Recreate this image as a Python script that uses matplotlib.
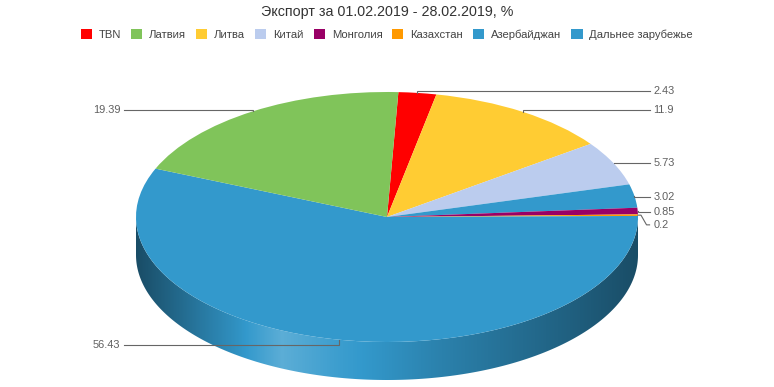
import numpy as np
import matplotlib
matplotlib.use('Agg')
import matplotlib.pyplot as plt
from matplotlib.patches import Polygon, Patch
from matplotlib.colors import to_rgb

plt.rcParams['font.family'] = ['Liberation Sans', 'DejaVu Sans']

# ---- data ----
title = 'Экспорт за 01.02.2019 - 28.02.2019, %'
categories = ['TBN', 'Латвия', 'Литва', 'Китай', 'Монголия', 'Казахстан',
              'Азербайджан', 'Дальнее зарубежье']
values = [2.43, 19.39, 11.9, 5.73, 0.85, 0.2, 3.02, 56.43]
labels = ['2.43', '19.39', '11.9', '5.73', '0.85', '0.2', '3.02', '56.43']
colors = ['#ff0000', '#80c45a', '#ffcc33', '#bbccee', '#990066', '#ff9900',
          '#3399cc', '#3399cc']
# order of slices clockwise from the top
pie_order = [0, 2, 3, 6, 4, 5, 7, 1]

# ---- layout ----
W, H = 774, 387
cx, cy, rx, ry, depth_px = 387, 217, 251, 125, 38
start_deg = 2.6
fig = plt.figure(figsize=(W / 100, H / 100), dpi=100)
ax = fig.add_axes([0, 0, 1, 1])
xlim = (-cx / rx, (W - cx) / rx)
ylim = ((cy - H) / ry, cy / ry)
d = depth_px / ry

vals = [values[i] for i in pie_order]
cols = [colors[i] for i in pie_order]
wedges, _ = ax.pie(vals, colors=cols, startangle=90 - start_deg, counterclock=False,
                   radius=1, wedgeprops=dict(linewidth=0))
for w in wedges:
    w.set_zorder(3)

total = float(sum(vals))
bounds = start_deg + 360 * np.concatenate([[0], np.cumsum(vals)]) / total

# side shading profile across the pie width
su = [0.0, 0.09, 0.2, 0.29, 0.4, 0.6, 0.86, 1.0]
sv = [-0.5, -0.3, -0.05, 0.2, 0.05, -0.15, -0.37, -0.5]
u = np.linspace(0, 1, 500)
s = np.interp(u, su, sv)

for k, i in enumerate(pie_order):
    a1, a2 = bounds[k], bounds[k + 1]
    lo, hi = max(a1, 90), min(a2, 270)
    if hi <= lo:
        continue
    th = np.radians(np.linspace(lo, hi, 300))
    top = np.column_stack([np.sin(th), np.cos(th)])
    bot = np.column_stack([np.sin(th), np.cos(th) - d])[::-1]
    poly = Polygon(np.vstack([top, bot]), closed=True, facecolor='none',
                   edgecolor='none')
    ax.add_patch(poly)
    c = np.array(to_rgb(colors[i]))
    img = np.where(s[:, None] > 0, c + (1 - c) * s[:, None], c * (1 + s[:, None]))
    im = ax.imshow(img[None, :, :], extent=(-1, 1, -1 - d, 0.0), aspect='auto',
                   zorder=2, interpolation='bilinear')
    im.set_clip_path(poly)

# ---- data labels ----
sp = 12.5 / ry
right, left = [], []
for k, i in enumerate(pie_order):
    m = np.radians((bounds[k] + bounds[k + 1]) / 2)
    p = (np.sin(m), np.cos(m), i)
    (right if p[0] >= 0 else left).append(p)

for group, sign in ((right, 1), (left, -1)):
    group.sort(key=lambda p: -p[1])
    prev = None
    for px, py, i in group:
        want = py + (3.5 * py - 1.5) / ry
        ly = want if prev is None else min(want, prev - sp)
        prev = ly
        end = sign * 1.046
        if abs(ly - want) > 3 / ry:
            xs = [px, px + sign * 0.012, end - sign * 0.012, end]
            ys = [py, py, ly, ly]
        else:
            xs = [px, px, end]
            ys = [py, ly, ly]
        ax.plot(xs, ys, color='#666666', lw=0.8, zorder=4, solid_joinstyle='miter')
        ax.text(sign * 1.062, ly, labels[i], ha='left' if sign > 0 else 'right',
                va='center', fontsize=7.9, color='#606060', zorder=5)

ax.set_aspect('auto')
ax.set_xlim(xlim)
ax.set_ylim(ylim)
ax.axis('off')

# ---- title & legend ----
fig.text(0.5, 1 - 12 / H, title, ha='center', va='center', fontsize=10.3,
         color='#333333')
handles = [Patch(facecolor=c, edgecolor='none') for c in colors]
fig.legend(handles, categories, loc='center', bbox_to_anchor=(0.5, 1 - 34.5 / H),
           ncol=len(categories), frameon=False, fontsize=8.1, handlelength=0.98,
           handleheight=0.98, handletextpad=0.62, columnspacing=0.89,
           labelcolor='#444444', borderaxespad=0, borderpad=0)

fig.savefig('out.png', dpi=100)
